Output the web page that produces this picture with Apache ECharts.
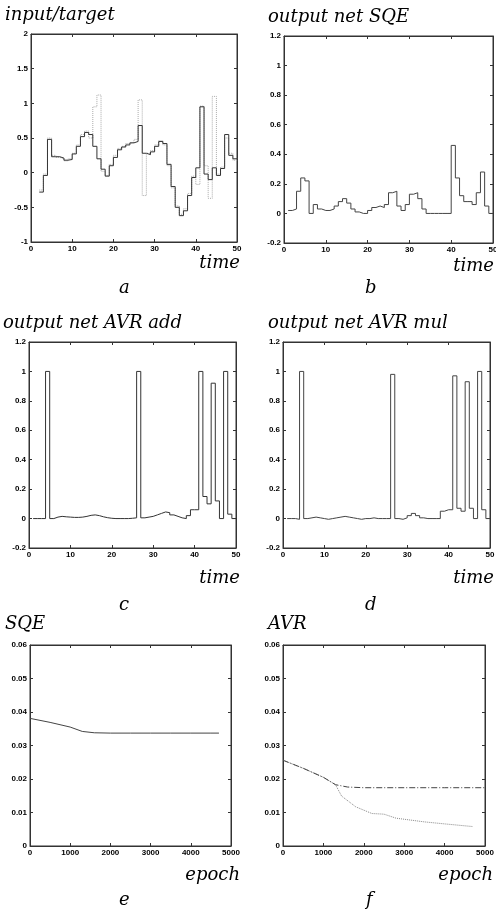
<!DOCTYPE html>
<html>
<head>
<meta charset="utf-8">
<script src="https://cdn.jsdelivr.net/npm/echarts@6/dist/echarts.min.js"></script>
<style>
html, body { margin: 0; padding: 0; background: #fff; }
#chart { width: 496px; height: 913px; }
</style>
</head>
<body>
<div id="chart"></div>
<script>
// time steps for the four time plots
const timeA = [2,3,4,5,6,7,8,9,10,11,12,13,14,15,16,17,18,19,20,21,22,23,24,25,26,27,28,29,30,31,32,33,34,35,36,37,38,39,40,41,42,43,44,45,46,47,48,49,50]
const targetA = [-0.28,-0.04,0.48,0.23,0.23,0.21,0.18,0.19,0.27,0.38,0.52,0.58,0.55,0.38,0.2,0.05,-0.05,0.1,0.22,0.33,0.37,0.4,0.43,0.45,0.68,0.28,0.26,0.3,0.38,0.45,0.42,0.12,-0.2,-0.5,-0.62,-0.55,-0.33,-0.07,0.07,0.95,-0.02,-0.1,0.07,-0.04,0.06,0.55,0.25,0.2,0.2]
const inputA = [-0.25,-0.02,0.5,0.25,0.22,0.2,0.17,0.2,0.28,0.4,0.55,0.6,0.5,0.95,1.12,0.02,-0.04,0.12,0.25,0.35,0.38,0.42,0.44,0.48,1.05,-0.33,0.28,0.32,0.4,0.46,0.4,0.1,-0.22,-0.48,-0.6,-0.52,-0.3,-0.05,-0.17,0.96,0.1,-0.37,1.1,-0.02,0.08,0.5,0.28,0.18,0.2]

const timeB = [1,2,3,4,5,6,7,8,9,10,11,12,13,14,15,16,17,18,19,20,21,22,23,24,25,26,27,28,29,30,31,32,33,34,35,36,37,38,39,40,41,42,43,44,45,46,47,48,49,50]
const sqeOut = [0.02,0.03,0.15,0.24,0.22,0.0,0.06,0.03,0.02,0.02,0.03,0.05,0.08,0.1,0.07,0.03,0.01,0.0,0.0,0.02,0.04,0.05,0.04,0.06,0.14,0.15,0.05,0.02,0.06,0.13,0.14,0.1,0.03,0.0,0.0,0.0,0.0,0.0,0.0,0.46,0.24,0.12,0.08,0.08,0.06,0.14,0.28,0.05,0.0,0.0]
const avrAdd = [0,0,0,1,0,0.01,0.015,0.012,0.01,0.008,0.008,0.01,0.015,0.022,0.025,0.02,0.012,0.006,0.002,0,0,0,0,0.002,0.005,1,0.005,0.01,0.015,0.025,0.035,0.045,0.04,0.025,0.015,0.005,0,0.02,0.06,0.06,1,0.15,0.1,0.92,0.12,0,1,0.03,0,0]
const avrMul = [0,0,-0.005,1,0,0.005,0.01,0.005,0,-0.005,0,0.005,0.01,0.015,0.01,0.005,0,-0.005,0,0,0.005,0,0,0,0,0.98,0,-0.005,0.005,0.02,0.035,0.02,0.005,0,0,0,0,0.05,0.06,0.06,0.97,0.07,0.05,0.93,0.07,0,1,0.06,0,0]

// training curves
const epochE = [0,500,1000,1300,1600,2000,2500,3000,3500,4000,4500,4700]
const sqeErr = [0.0381,0.0369,0.0355,0.0342,0.0338,0.0337,0.0337,0.0337,0.0337,0.0337,0.0337,0.0337]
const epochF1 = [0,500,1000,1300,1600,2000,3000,4000,5000]
const avrErr1 = [0.0256,0.0232,0.0205,0.0183,0.0176,0.0174,0.0174,0.0174,0.0174]
const epochF2 = [0,500,1000,1300,1450,1800,2200,2500,2800,3500,4000,4700]
const avrErr2 = [0.0256,0.0232,0.0205,0.0183,0.0149,0.0117,0.0097,0.0095,0.0083,0.0072,0.0066,0.0058]

function pairs (xs, ys) {
  return xs.map((x, i) => [x, ys[i]])
}

const grids = [
  {left: 31, top: 34, width: 206, height: 208},
  {left: 284, top: 36, width: 209, height: 207},
  {left: 29, top: 342, width: 207, height: 206},
  {left: 283, top: 342, width: 207, height: 206},
  {left: 30, top: 645, width: 201, height: 201},
  {left: 283, top: 645, width: 202, height: 201}
]

const axisRanges = [
  {x: [0, 50, 10], y: [-1, 2, 0.5]},
  {x: [0, 50, 10], y: [-0.2, 1.2, 0.2]},
  {x: [0, 50, 10], y: [-0.2, 1.2, 0.2]},
  {x: [0, 50, 10], y: [-0.2, 1.2, 0.2]},
  {x: [0, 5000, 1000], y: [0, 0.06, 0.01]},
  {x: [0, 5000, 1000], y: [0, 0.06, 0.01]}
]

const labelStyle = {color: '#000', fontSize: 8, fontWeight: 'bold', fontFamily: 'Liberation Sans'}

function fmt (v) {
  return String(Math.round(v * 1000) / 1000)
}

function makeAxis (i, r, pos, labelled) {
  return {
    type: 'value', gridIndex: i, min: r[0], max: r[1], interval: r[2], position: pos,
    axisLine: {onZero: false, lineStyle: {color: '#333', width: 1}},
    axisTick: {inside: true, length: 3, lineStyle: {color: '#333'}},
    axisLabel: Object.assign({show: labelled, margin: 3, formatter: fmt, showMinLabel: true, showMaxLabel: true}, labelStyle),
    splitLine: {show: false}
  }
}

let xAxes = []
let yAxes = []
axisRanges.forEach((r, i) => {
  xAxes.push(makeAxis(i, r.x, 'bottom', true))
  yAxes.push(makeAxis(i, r.y, 'left', true))
})
// mirror ticks on top and right, matlab style
axisRanges.forEach((r, i) => {
  xAxes.push(makeAxis(i, r.x, 'top', false))
  yAxes.push(makeAxis(i, r.y, 'right', false))
})

function stepLine (idx, data, color, type, width) {
  return {
    type: 'line', xAxisIndex: idx, yAxisIndex: idx, step: 'end', data: data,
    showSymbol: false, animation: false,
    lineStyle: {color: color, width: width || 1, type: type || 'solid'}
  }
}

function plainLine (idx, data, color, type) {
  return {
    type: 'line', xAxisIndex: idx, yAxisIndex: idx, data: data,
    showSymbol: false, animation: false,
    lineStyle: {color: color, width: 1, type: type || 'solid'}
  }
}

const titleFont = {fontFamily: 'DejaVu Serif', fontStyle: 'italic', fontSize: 18, fontWeight: 'normal', color: '#000'}
function txt (text, pos) {
  return Object.assign({text: text, textStyle: titleFont, padding: 0}, pos)
}

let chart = echarts.init(document.getElementById('chart'))
chart.setOption({
  animation: false,
  backgroundColor: '#fff',
  title: [
    txt('input/target', {left: 5, top: 6}),
    txt('output net SQE', {left: 268, top: 8}),
    txt('output net AVR add', {left: 3, top: 314}),
    txt('output net AVR mul', {left: 268, top: 314}),
    txt('SQE', {left: 5, top: 615}),
    txt('AVR', {left: 268, top: 615}),
    txt('time', {right: 256, top: 254}),
    txt('time', {right: 2, top: 257}),
    txt('time', {right: 256, top: 569}),
    txt('time', {right: 2, top: 569}),
    txt('epoch', {right: 256, top: 866}),
    txt('epoch', {right: 3, top: 866}),
    txt('a', {left: 119, top: 279}),
    txt('b', {left: 365, top: 279}),
    txt('c', {left: 119, top: 596}),
    txt('d', {left: 365, top: 596}),
    txt('e', {left: 119, top: 891}),
    txt('f', {left: 366, top: 891})
  ],
  grid: grids.map(g => Object.assign({show: true, borderColor: '#333', borderWidth: 1, containLabel: false, outerBoundsMode: 'none'}, g)),
  xAxis: xAxes,
  yAxis: yAxes,
  series: [
    stepLine(0, pairs(timeA, inputA), '#aaa', 'dotted'),
    stepLine(0, pairs(timeA, targetA), '#333'),
    stepLine(1, pairs(timeB, sqeOut), '#444'),
    stepLine(2, pairs(timeB, avrAdd), '#333'),
    stepLine(3, pairs(timeB, avrMul), '#444'),
    plainLine(4, pairs(epochE, sqeErr), '#444'),
    plainLine(5, pairs(epochF2, avrErr2), '#888', 'dotted'),
    plainLine(5, pairs(epochF1, avrErr1), '#444', [6, 2, 1, 2])
  ]
})
</script>
</body>
</html>
